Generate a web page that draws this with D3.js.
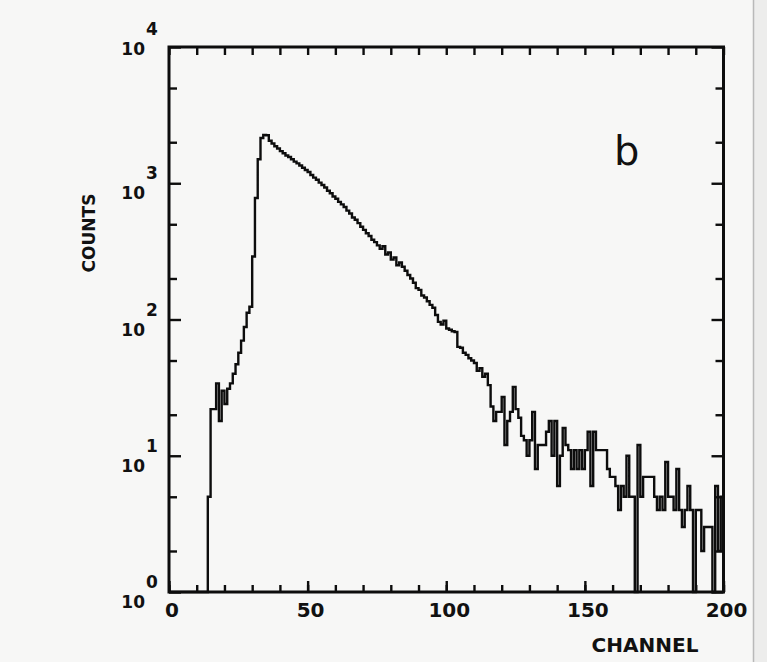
<!DOCTYPE html>
<html>
<head>
<meta charset="utf-8">
<script src="https://cdn.jsdelivr.net/npm/d3@7"></script>
<style>
  html, body { margin: 0; padding: 0; background: #f7f7f6; }
  svg { display: block; }
</style>
</head>
<body>
<svg id="chart" width="767" height="662"></svg>
<script>
// Counts per channel (channel = array index, 0..199)
const counts = [
  0, 0, 0, 0, 0, 0, 0, 0, 0, 0,
  0, 0, 0, 0, 5, 22, 22, 34, 18, 30,
  24, 31, 34, 40, 47, 57, 70, 88, 112, 124,
  290, 780, 1500, 2150, 2260, 2250, 2050, 1960, 1870, 1800,
  1720, 1660, 1600, 1560, 1500, 1440, 1400, 1350, 1300, 1250,
  1210, 1150, 1100, 1060, 1010, 970, 930, 880, 845, 800,
  770, 730, 700, 670, 630, 600, 560, 540, 510, 480,
  455, 430, 410, 385, 370, 350, 330, 345, 300, 310,
  275, 285, 250, 262, 244, 228, 212, 200, 186, 170,
  165, 150, 145, 136, 128, 122, 108, 96, 92, 98,
  86, 84, 82, 81, 63, 62, 57, 55, 52, 50,
  48, 42, 44, 38, 40, 33, 23, 18, 21, 21,
  27, 12, 18, 21, 32, 22, 19, 14, 13, 10,
  13, 21, 8, 12, 12, 12, 15, 18, 10, 18,
  6, 10, 16, 12, 11, 8, 11, 8, 11, 8,
  11, 15, 6, 15, 11, 11, 11, 11, 8, 7,
  7, 6, 4, 6, 5, 10, 5, 5, 0, 12,
  5, 7, 7, 7, 7, 5, 4, 5, 4, 9,
  5, 5, 4, 8, 4, 3, 4, 6, 4, 0,
  4, 4, 2, 3, 3, 3, 0, 6, 2, 5
];

const xDomain = [0, 200];
const xMinorTicks = d3.range(0, 201, 10);
const xLabelTicks = [0, 50, 100, 150, 200];
const yDecades = [0, 1, 2, 3, 4];
const yMinorMantissas = [2, 5];
const xTitle = "CHANNEL";
const yTitle = "COUNTS";
const panelTag = "b";

const svg = d3.select("#chart");
const W = 767, H = 662;

const plot = { left: 169, right: 723.5, top: 47, bottom: 592 };

const x = d3.scaleLinear().domain(xDomain).range([plot.left, plot.right]);
const y = d3.scaleLog().domain([1, 1e4]).range([plot.bottom, plot.top]).clamp(true);

// paper, page edge and shadow strip
svg.append("rect").attr("width", W).attr("height", H).attr("fill", "#f7f7f6");
svg.append("rect").attr("x", 754).attr("y", 0).attr("width", W - 754).attr("height", H).attr("fill", "#ededec");
svg.append("line").attr("x1", 753.5).attr("x2", 753.5).attr("y1", 0).attr("y2", H)
  .attr("stroke", "#b9b9b9").attr("stroke-width", 1.5);

// histogram (empty channels sit on the lower frame)
const pts = counts.map((c, i) => [i, Math.max(c, 1)]);
pts.push([counts.length, Math.max(counts[counts.length - 1], 1)]);
const line = d3.line().x(d => x(d[0])).y(d => y(d[1])).curve(d3.curveStepAfter);
svg.append("path").attr("d", line(pts)).attr("fill", "none")
  .attr("stroke", "#0d0d0d").attr("stroke-width", 2.4).attr("stroke-linejoin", "miter");

// axes with inward ticks
const tickStyle = g => {
  g.select(".domain").remove();
  g.selectAll(".tick line").attr("stroke", "#0d0d0d").attr("stroke-width", 2.4);
  g.selectAll(".tick text").remove();
};
svg.append("g").attr("transform", `translate(0,${plot.bottom})`)
  .call(d3.axisBottom(x).tickValues(xMinorTicks).tickSize(-7)).call(tickStyle);
svg.append("g").attr("transform", `translate(0,${plot.bottom})`)
  .call(d3.axisBottom(x).tickValues(xLabelTicks).tickSize(-11)).call(tickStyle);
svg.append("g").attr("transform", `translate(0,${plot.top})`)
  .call(d3.axisTop(x).tickValues(xMinorTicks).tickSize(-8)).call(tickStyle);

const yMinor = [];
yDecades.forEach(d => { if (d < 4) yMinorMantissas.forEach(m => yMinor.push(m * Math.pow(10, d))); });
const yMajor = yDecades.map(d => Math.pow(10, d));
[[plot.left, d3.axisLeft], [plot.right, d3.axisRight]].forEach(([px, ax]) => {
  svg.append("g").attr("transform", `translate(${px},0)`)
    .call(ax(y).tickValues(yMinor).tickSize(-8)).call(tickStyle);
  svg.append("g").attr("transform", `translate(${px},0)`)
    .call(ax(y).tickValues(yMajor).tickSize(-12)).call(tickStyle);
});

// frame
svg.append("rect").attr("x", plot.left).attr("y", plot.top)
  .attr("width", plot.right - plot.left).attr("height", plot.bottom - plot.top)
  .attr("fill", "none").attr("stroke", "#0d0d0d").attr("stroke-width", 3);

// tick labels
const lab = svg.append("g").attr("font-family", "'DejaVu Sans', sans-serif").attr("fill", "#111");
lab.selectAll("text.xl").data(xLabelTicks).join("text").attr("class", "xl")
  .attr("x", d => x(d) + 3).attr("y", 617).attr("text-anchor", "middle")
  .attr("font-size", 20).attr("font-weight", "bold").text(d => d);

yDecades.forEach(d => {
  const ty = y(Math.pow(10, d));
  const top = d === 4;
  lab.append("text").attr("x", 145).attr("y", top ? ty + 8 : ty + 16)
    .attr("text-anchor", "end").attr("font-size", 17).attr("font-weight", "bold").text("10");
  lab.append("text").attr("x", 146).attr("y", top ? ty - 12 : ty - 4)
    .attr("text-anchor", "start").attr("font-size", 17).attr("font-weight", "bold").text(d);
});

// axis titles and panel tag
lab.append("text").attr("x", 645).attr("y", 652).attr("text-anchor", "middle")
  .attr("font-size", 20).attr("font-weight", "bold").text(xTitle);
lab.append("text").attr("transform", "translate(95,233) rotate(-90)").attr("text-anchor", "middle")
  .attr("font-size", 17).attr("font-weight", "bold").text(yTitle);
lab.append("text").attr("x", 614).attr("y", 165).attr("font-size", 40).text(panelTag);
</script>
</body>
</html>
